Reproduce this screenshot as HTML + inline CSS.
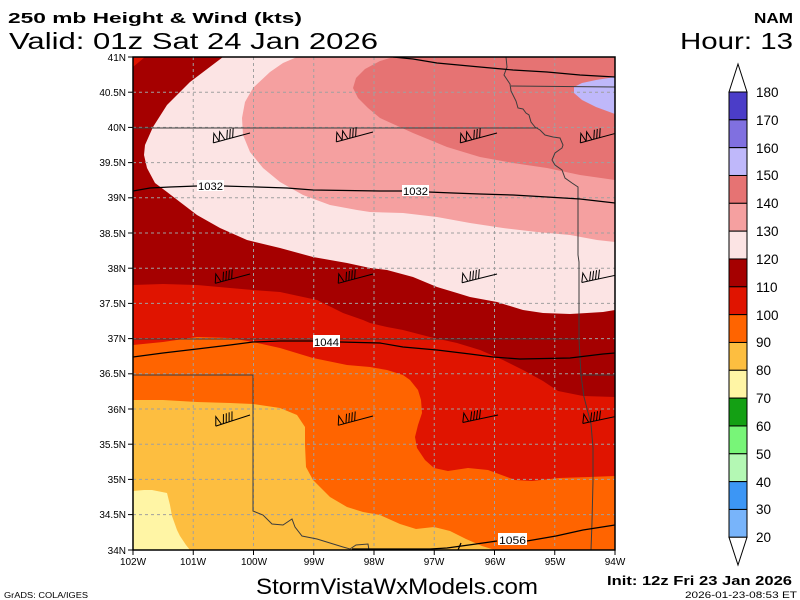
<!DOCTYPE html>
<html>
<head>
<meta charset="utf-8">
<style>
html,body{margin:0;padding:0;background:#fff;}
svg{display:block;}
text{font-family:"Liberation Sans",sans-serif;fill:#000;}
</style>
</head>
<body>
<svg width="800" height="600" viewBox="0 0 800 600" xmlns="http://www.w3.org/2000/svg">
<defs>
  <clipPath id="pc"><rect x="133" y="57" width="482" height="493"/></clipPath>
  <g id="barbA" fill="none" stroke="#000" stroke-width="1">
    <line x1="0" y1="0" x2="-38" y2="0"/>
    <polyline points="-38,0 -35,-9 -32,0"/>
    <polyline points="-32,0 -29,-9 -26,0"/>
    <line x1="-24" y1="0" x2="-21" y2="-9"/>
    <line x1="-21" y1="0" x2="-18" y2="-9"/>
    <line x1="-18" y1="0" x2="-15" y2="-9"/>
  </g>
  <g id="barbB" fill="none" stroke="#000" stroke-width="1">
    <line x1="0" y1="0" x2="-36" y2="0"/>
    <polyline points="-36,0 -33,-9 -30,0"/>
    <line x1="-28" y1="0" x2="-25" y2="-9"/>
    <line x1="-25" y1="0" x2="-22" y2="-9"/>
    <line x1="-22" y1="0" x2="-19" y2="-9"/>
    <line x1="-19" y1="0" x2="-16" y2="-9"/>
  </g>
</defs>

<rect x="0" y="0" width="800" height="600" fill="#fff"/>

<!-- Titles -->
<text x="8" y="23" font-size="15" font-weight="bold" textLength="294" lengthAdjust="spacingAndGlyphs">250 mb Height &amp; Wind (kts)</text>
<text x="9" y="49" font-size="23" textLength="369" lengthAdjust="spacingAndGlyphs">Valid: 01z Sat 24 Jan 2026</text>
<text x="754" y="23" font-size="15" font-weight="bold" textLength="39" lengthAdjust="spacingAndGlyphs">NAM</text>
<text x="680" y="49" font-size="23" textLength="113" lengthAdjust="spacingAndGlyphs">Hour: 13</text>

<!-- Map -->
<g clip-path="url(#pc)">
  <rect x="133" y="57" width="482" height="493" fill="#fdbe40"/>
  <polygon fill="#fff5a5" points="133,491 144,490 152,490 167,493 170,505 172,516 177,530 180,536 186,545 190,550 133,550"/>
  <polygon fill="#ff6400" points="133,57 615,57 615,550 495,550 482,546 466,539 450,531 434,527 416,529 400,524 380,515 363,512 347,507 330,497 313,480 306,467 305,445 305,427 297,415 280,408 253,404 230,403 197,402 163,400 133,400"/>
  <polygon fill="#e01400" points="133,57 615,57 615,476 589,477 559,478 532,481 515,480 488,470 468,468 448,471 434,468 425,460 417,448 415,437 418,425 422,413 421,400 418,390 410,380 403,375 387,370 370,367 347,365 313,358 280,348 253,342 230,338 197,337 163,342 133,345"/>
  <polygon fill="#a50000" points="145,57 615,57 615,397 583,396 558,391 543,381 523,370 503,360 480,350 457,343 430,337 403,330 387,327 370,323 363,320 343,313 317,300 280,292 253,290 230,288 197,285 163,284 133,285 133,67"/>
  <polygon fill="#fce4e4" points="223,57 615,57 615,310 603,312 587,313 570,314 543,313 523,310 497,302 470,297 457,293 437,287 413,277 387,270 370,268 347,263 313,257 280,248 247,240 220,228 197,215 180,202 167,192 155,183 147,168 144,155 145,145 153,127 167,105 190,82"/>
  <polygon fill="#f5a0a0" points="297,57 615,57 615,242 597,240 570,235 537,232 503,228 470,223 437,217 403,213 370,212 357,210 330,205 303,195 280,182 263,168 250,152 243,135 242,118 245,102 253,88 270,72 283,63"/>
  <polygon fill="#e67373" points="393,57 615,57 615,180 580,175 547,168 513,163 480,157 447,147 413,133 380,118 368,108 358,98 353,88 356,78 365,69 380,61"/>
  <polygon fill="#bfb8fa" points="615,77 596,80 582,83 574,87 574,93 582,100 596,107 615,114"/>

  <!-- grid -->
  <g stroke="#a0a0a0" stroke-width="1" stroke-dasharray="3 3" fill="none">
    <line x1="193.25" y1="57" x2="193.25" y2="550"/>
    <line x1="253.5" y1="57" x2="253.5" y2="550"/>
    <line x1="313.75" y1="57" x2="313.75" y2="550"/>
    <line x1="374" y1="57" x2="374" y2="550"/>
    <line x1="434.25" y1="57" x2="434.25" y2="550"/>
    <line x1="494.5" y1="57" x2="494.5" y2="550"/>
    <line x1="554.75" y1="57" x2="554.75" y2="550"/>
    <line x1="133" y1="92.2" x2="615" y2="92.2"/>
    <line x1="133" y1="127.4" x2="615" y2="127.4"/>
    <line x1="133" y1="162.6" x2="615" y2="162.6"/>
    <line x1="133" y1="197.8" x2="615" y2="197.8"/>
    <line x1="133" y1="233" x2="615" y2="233"/>
    <line x1="133" y1="268.2" x2="615" y2="268.2"/>
    <line x1="133" y1="303.4" x2="615" y2="303.4"/>
    <line x1="133" y1="338.6" x2="615" y2="338.6"/>
    <line x1="133" y1="373.8" x2="615" y2="373.8"/>
    <line x1="133" y1="409" x2="615" y2="409"/>
    <line x1="133" y1="444.2" x2="615" y2="444.2"/>
    <line x1="133" y1="479.4" x2="615" y2="479.4"/>
    <line x1="133" y1="514.6" x2="615" y2="514.6"/>
  </g>

  <!-- state lines -->
  <g stroke="#3c3c3c" stroke-width="1" fill="none">
    <polyline points="133,128 538,128"/>
    <polyline points="506,57 507,67 504,75 510,84 511,91 516,101 518,108 523,109 526,113 529,115 531,122 535,127 540,130 545,135 553,137 560,138 563,145 562,148 555,153 552,160 555,165 562,170 565,178 572,183 578,187 578,255 579,262 579,339 581,375 584,397 591,424 593,448 593,481 592,522 591,550"/>
    <polyline points="511,86 615,87"/>
    <polyline points="580,375 615,375"/>
    <polyline points="133,339 579,339"/>
    <polyline points="133,375 253,375 253,511 263,515 272,524 283,525 292,519 295,527 302,536 317,539 330,543 343,547 350,549 356,545 368,544 369,550"/>
  </g>

  <!-- height contours -->
  <g stroke="#000" stroke-width="1.2" fill="none">
    <polyline points="393,57 413,59 437,63 480,67 513,70 547,72 580,75 615,77"/>
    <polyline points="133,191 150,188 170,187 197,186"/>
    <polyline points="223,186 257,187 287,188 313,190 380,191 403,191"/>
    <polyline points="428,192 453,193 480,194 513,195 547,197 580,199 615,203"/>
    <polyline points="133,357 163,353 197,349 230,345 253,342 280,341 313,341"/>
    <polyline points="340,342 380,343 403,347 437,350 470,354 493,357 520,359 570,358 603,354 615,353"/>
    <polyline points="352,549 430,549 447,548 476,544 497,541"/>
    <polyline points="527,541 556,536 583,530 615,525"/>
    <polyline points="461,543 458,550"/>
  </g>
  <g>
    <rect x="197" y="180" width="27" height="11" fill="#fff"/>
    <text x="198" y="190" font-size="11" textLength="25" lengthAdjust="spacingAndGlyphs">1032</text>
    <rect x="402" y="185" width="27" height="11" fill="#fff"/>
    <text x="403" y="195" font-size="11" textLength="25" lengthAdjust="spacingAndGlyphs">1032</text>
    <rect x="313" y="335" width="27" height="12" fill="#fff"/>
    <text x="314" y="346" font-size="11" textLength="25" lengthAdjust="spacingAndGlyphs">1044</text>
    <rect x="498" y="533" width="29" height="12" fill="#fff"/>
    <text x="499" y="544" font-size="11" textLength="27" lengthAdjust="spacingAndGlyphs">1056</text>
  </g>

  <!-- wind barbs -->
  <use href="#barbA" transform="translate(250,133) rotate(-15)"/>
  <use href="#barbA" transform="translate(373,132) rotate(-15)"/>
  <use href="#barbA" transform="translate(497,133) rotate(-15)"/>
  <use href="#barbA" transform="translate(617,133) rotate(-15)"/>
  <use href="#barbB" transform="translate(250,274) rotate(-15)"/>
  <use href="#barbB" transform="translate(373,274) rotate(-15)"/>
  <use href="#barbB" transform="translate(497,274) rotate(-14)"/>
  <use href="#barbB" transform="translate(617,275) rotate(-12)"/>
  <use href="#barbB" transform="translate(250,415) rotate(-18)"/>
  <use href="#barbB" transform="translate(373,416) rotate(-15)"/>
  <use href="#barbB" transform="translate(498,415) rotate(-12)"/>
  <use href="#barbB" transform="translate(618,416) rotate(-12)"/>
</g>

<!-- plot border -->
<rect x="133" y="57" width="482" height="493" fill="none" stroke="#000" stroke-width="1.5"/>

<!-- ticks -->
<g stroke="#000" stroke-width="1">
  <line x1="128" y1="57" x2="133" y2="57"/>
  <line x1="128" y1="92.2" x2="133" y2="92.2"/>
  <line x1="128" y1="127.4" x2="133" y2="127.4"/>
  <line x1="128" y1="162.6" x2="133" y2="162.6"/>
  <line x1="128" y1="197.8" x2="133" y2="197.8"/>
  <line x1="128" y1="233" x2="133" y2="233"/>
  <line x1="128" y1="268.2" x2="133" y2="268.2"/>
  <line x1="128" y1="303.4" x2="133" y2="303.4"/>
  <line x1="128" y1="338.6" x2="133" y2="338.6"/>
  <line x1="128" y1="373.8" x2="133" y2="373.8"/>
  <line x1="128" y1="409" x2="133" y2="409"/>
  <line x1="128" y1="444.2" x2="133" y2="444.2"/>
  <line x1="128" y1="479.4" x2="133" y2="479.4"/>
  <line x1="128" y1="514.6" x2="133" y2="514.6"/>
  <line x1="128" y1="550" x2="133" y2="550"/>
  <line x1="133" y1="550" x2="133" y2="555"/>
  <line x1="193.25" y1="550" x2="193.25" y2="555"/>
  <line x1="253.5" y1="550" x2="253.5" y2="555"/>
  <line x1="313.75" y1="550" x2="313.75" y2="555"/>
  <line x1="374" y1="550" x2="374" y2="555"/>
  <line x1="434.25" y1="550" x2="434.25" y2="555"/>
  <line x1="494.5" y1="550" x2="494.5" y2="555"/>
  <line x1="554.75" y1="550" x2="554.75" y2="555"/>
  <line x1="615" y1="550" x2="615" y2="555"/>
</g>

<!-- lat labels -->
<g font-size="10" text-anchor="end">
  <text x="126" y="61">41N</text>
  <text x="126" y="96">40.5N</text>
  <text x="126" y="131">40N</text>
  <text x="126" y="166">39.5N</text>
  <text x="126" y="201">39N</text>
  <text x="126" y="237">38.5N</text>
  <text x="126" y="272">38N</text>
  <text x="126" y="307">37.5N</text>
  <text x="126" y="342">37N</text>
  <text x="126" y="377">36.5N</text>
  <text x="126" y="413">36N</text>
  <text x="126" y="448">35.5N</text>
  <text x="126" y="483">35N</text>
  <text x="126" y="518">34.5N</text>
  <text x="126" y="554">34N</text>
</g>
<!-- lon labels -->
<g font-size="10" text-anchor="middle">
  <text x="133" y="565">102W</text>
  <text x="193" y="565">101W</text>
  <text x="254" y="565">100W</text>
  <text x="314" y="565">99W</text>
  <text x="374" y="565">98W</text>
  <text x="434" y="565">97W</text>
  <text x="495" y="565">96W</text>
  <text x="555" y="565">95W</text>
  <text x="615" y="565">94W</text>
</g>

<!-- colorbar -->
<g stroke="#000" stroke-width="1">
  <polygon points="729,92 738,64 747,92" fill="#fff"/>
  <rect x="729" y="92" width="18" height="27.83" fill="#4b3dc8"/>
  <rect x="729" y="119.83" width="18" height="27.83" fill="#8070e0"/>
  <rect x="729" y="147.66" width="18" height="27.83" fill="#bfb8fa"/>
  <rect x="729" y="175.49" width="18" height="27.83" fill="#e67373"/>
  <rect x="729" y="203.32" width="18" height="27.83" fill="#f5a0a0"/>
  <rect x="729" y="231.15" width="18" height="27.83" fill="#fce4e4"/>
  <rect x="729" y="258.98" width="18" height="27.83" fill="#a50000"/>
  <rect x="729" y="286.81" width="18" height="27.83" fill="#e01400"/>
  <rect x="729" y="314.64" width="18" height="27.83" fill="#ff6400"/>
  <rect x="729" y="342.47" width="18" height="27.83" fill="#fdbe40"/>
  <rect x="729" y="370.3" width="18" height="27.83" fill="#fff5a5"/>
  <rect x="729" y="398.13" width="18" height="27.83" fill="#14a014"/>
  <rect x="729" y="425.96" width="18" height="27.83" fill="#78f578"/>
  <rect x="729" y="453.79" width="18" height="27.83" fill="#b4f8b4"/>
  <rect x="729" y="481.62" width="18" height="27.83" fill="#3c96f5"/>
  <rect x="729" y="509.45" width="18" height="27.83" fill="#78b4fa"/>
  <polygon points="729,537.3 738,565 747,537.3" fill="#fff"/>
</g>
<g font-size="13.5">
  <text x="756" y="97">180</text>
  <text x="756" y="125">170</text>
  <text x="756" y="153">160</text>
  <text x="756" y="180">150</text>
  <text x="756" y="208">140</text>
  <text x="756" y="236">130</text>
  <text x="756" y="264">120</text>
  <text x="756" y="292">110</text>
  <text x="756" y="320">100</text>
  <text x="756" y="347">90</text>
  <text x="756" y="375">80</text>
  <text x="756" y="403">70</text>
  <text x="756" y="431">60</text>
  <text x="756" y="459">50</text>
  <text x="756" y="487">40</text>
  <text x="756" y="514">30</text>
  <text x="756" y="542">20</text>
</g>

<!-- footer -->
<text x="256" y="594" font-size="22" textLength="282" lengthAdjust="spacingAndGlyphs">StormVistaWxModels.com</text>
<text x="607" y="585" font-size="13" font-weight="bold" textLength="185" lengthAdjust="spacingAndGlyphs">Init: 12z Fri 23 Jan 2026</text>
<text x="685" y="598" font-size="9" textLength="112" lengthAdjust="spacingAndGlyphs">2026-01-23-08:53 ET</text>
<text x="4" y="598" font-size="8" textLength="84" lengthAdjust="spacingAndGlyphs">GrADS: COLA/IGES</text>
</svg>
</body>
</html>
